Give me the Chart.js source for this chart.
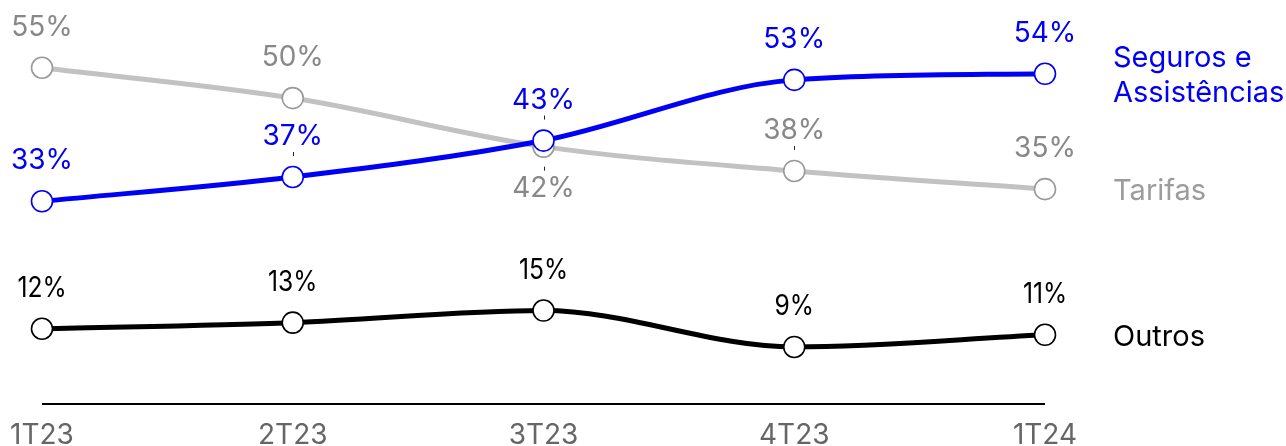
<!DOCTYPE html>
<html lang="pt">
<head>
<meta charset="utf-8">
<title>Mix de receitas</title>
<script src="https://cdn.jsdelivr.net/npm/chart.js@4.4.1/dist/chart.umd.min.js"></script>
<style>
    html, body { margin: 0; padding: 0; background: #ffffff; overflow: hidden; }
    #wrap { width: 1286px; height: 446px; }
</style>
</head>
<body>
<div id="wrap"><canvas id="mixChart" width="1286" height="446"></canvas></div>
<script>
// Data
const quarters = ['1T23', '2T23', '3T23', '4T23', '1T24'];
const seguros = [33, 37, 43, 53, 54];
const tarifas = [55, 50, 42, 38, 35];
const outros = [12, 13, 15, 9, 11];
const seriesNames = [['Seguros e', 'Assistências'], ['Tarifas'], ['Outros']];

const COLORS = {
    blue: '#0000f5',
    grayLine: '#c2c2c2',
    grayPoint: '#9a9a9a',
    grayLabel: '#888888',
    grayLegend: '#9c9c9c',
    black: '#000000',
    tick: '#666666'
};

const FONT = '28px Inter, "Noto Sans", sans-serif';

// which labels sit below the point, and which get the small leader tick
const labelBelow = { 1: [2] };
const leaderTick = { 0: [1, 2], 1: [2, 3] };

function makeDataset(label, data, color, pointBorder) {
    return {
        label: label,
        data: data,
        borderColor: color,
        borderWidth: 5,
        cubicInterpolationMode: 'monotone',
        pointRadius: 10.5,
        pointHoverRadius: 10.5,
        pointBackgroundColor: '#ffffff',
        pointBorderColor: pointBorder,
        pointBorderWidth: 1.6,
        clip: false
    };
}

const labelPlugin = {
    id: 'labelPlugin',
    afterDatasetsDraw(chart) {
        const ctx = chart.ctx;
        const xScale = chart.scales.x;
        const area = chart.chartArea;

        ctx.save();
        // baseline
        ctx.strokeStyle = COLORS.black;
        ctx.lineWidth = 2;
        ctx.beginPath();
        ctx.moveTo(xScale.getPixelForValue(0), area.bottom);
        ctx.lineTo(xScale.getPixelForValue(quarters.length - 1), area.bottom);
        ctx.stroke();

        // quarter labels
        ctx.font = FONT;
        ctx.fillStyle = COLORS.tick;
        ctx.textAlign = 'center';
        ctx.textBaseline = 'alphabetic';
        quarters.forEach((q, i) => {
            ctx.fillText(q, xScale.getPixelForValue(i), 444);
        });

        const labelColors = [COLORS.blue, COLORS.grayLabel, COLORS.black];
        const legendColors = [COLORS.blue, COLORS.grayLegend, COLORS.black];

        chart.data.datasets.forEach((ds, di) => {
            const meta = chart.getDatasetMeta(di);
            ctx.fillStyle = labelColors[di];
            meta.data.forEach((pt, i) => {
                const below = (labelBelow[di] || []).includes(i);
                const txt = ds.data[i] + '%';
                const y = below ? pt.y + 50 : pt.y - 32;
                if (di === 2) {
                    // the Outros labels are set in a narrower face
                    ctx.save();
                    ctx.translate(pt.x, y);
                    ctx.scale(0.88, 1);
                    ctx.fillText(txt, 0, 0);
                    ctx.restore();
                } else {
                    ctx.fillText(txt, pt.x, y);
                }
                if ((leaderTick[di] || []).includes(i)) {
                    ctx.save();
                    ctx.strokeStyle = '#222222';
                    ctx.lineWidth = 1;
                    ctx.beginPath();
                    const x = Math.round(pt.x) + 0.5;
                    if (below) {
                        ctx.moveTo(x, pt.y + 20);
                        ctx.lineTo(x, pt.y + 24);
                    } else {
                        ctx.moveTo(x, pt.y - 25);
                        ctx.lineTo(x, pt.y - 21);
                    }
                    ctx.stroke();
                    ctx.restore();
                }
            });

            // series name at the right of the last point
            const last = meta.data[meta.data.length - 1];
            const lines = seriesNames[di];
            ctx.fillStyle = legendColors[di];
            ctx.textAlign = 'left';
            const lh = 35;
            const y0 = last.y + 11 - (lines.length - 1) * lh / 2;
            ctx.font = '29px Inter, "Noto Sans", sans-serif';
            lines.forEach((ln, li) => {
                ctx.fillText(ln, last.x + 68, y0 + li * lh);
            });
            ctx.font = FONT;
            ctx.textAlign = 'center';
        });
        ctx.restore();
    }
};

const chart = new Chart(document.getElementById('mixChart').getContext('2d'), {
    type: 'line',
    data: {
        labels: quarters,
        datasets: [
            makeDataset('Seguros e Assistências', seguros, COLORS.blue, COLORS.blue),
            makeDataset('Tarifas', tarifas, COLORS.grayLine, COLORS.grayPoint),
            makeDataset('Outros', outros, COLORS.black, COLORS.black)
        ]
    },
    options: {
        responsive: false,
        animation: false,
        devicePixelRatio: 1,
        layout: { padding: { left: 42, right: 241, top: 38, bottom: 42 } },
        plugins: {
            legend: { display: false },
            tooltip: { enabled: false }
        },
        scales: {
            x: { display: false, offset: false },
            y: { display: false, min: -0.4, max: 59.9 }
        }
    },
    plugins: [labelPlugin]
});
</script>
</body>
</html>
